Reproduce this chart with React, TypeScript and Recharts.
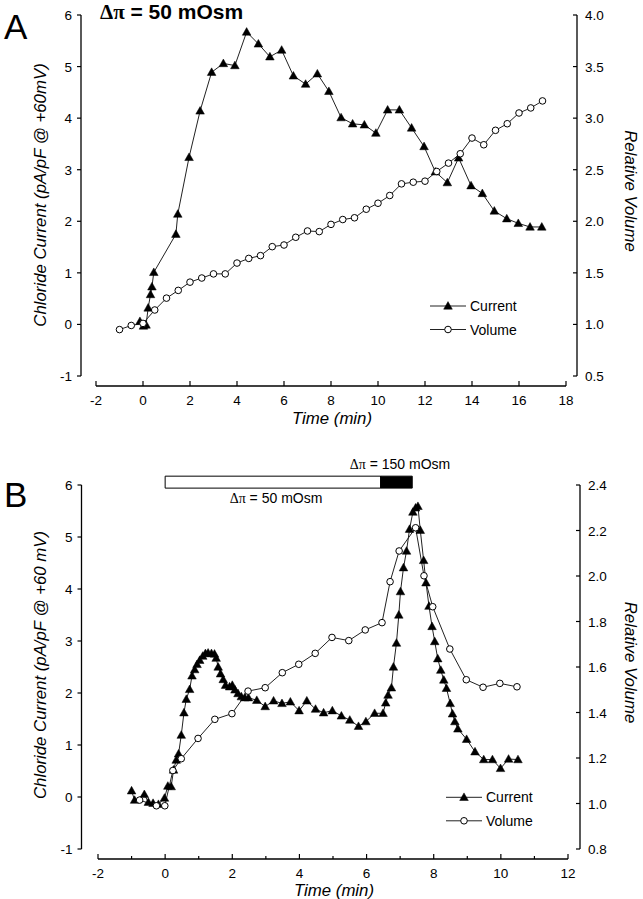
import React from 'react';
import { LineChart, Line, XAxis, YAxis, ReferenceLine, ReferenceArea } from 'recharts';

const SANS = '"Liberation Sans", Arial, Helvetica, sans-serif';
const SERIF = '"Liberation Serif", "Times New Roman", serif';

// ---------------- Panel A data ----------------
const xTicksA = [-2, 0, 2, 4, 6, 8, 10, 12, 14, 16, 18];
const yTicksA = [-1, 0, 1, 2, 3, 4, 5, 6];
const vTicksA = [0.5, 1.0, 1.5, 2.0, 2.5, 3.0, 3.5, 4.0];

const timeCurrentA = [
  -0.13, 0.02, 0.13, 0.22, 0.32, 0.38, 0.46, 1.4, 1.48, 1.96,
  2.43, 2.92, 3.42, 3.91, 4.41, 4.91, 5.4, 5.9, 6.4, 6.92,
  7.42, 7.91, 8.43, 8.92, 9.42, 9.91, 10.41, 10.91, 11.43, 11.96,
  12.44, 12.95, 13.43, 13.96, 14.44, 14.95, 15.48, 15.97, 16.47, 16.97,
];
const currentA = [
  0.06, -0.03, -0.01, 0.32, 0.58, 0.73, 1.01, 1.75, 2.14, 3.24,
  4.14, 4.89, 5.06, 5.02, 5.67, 5.44, 5.19, 5.32, 4.82, 4.66,
  4.86, 4.52, 4.01, 3.89, 3.87, 3.71, 4.16, 4.16, 3.81, 3.45,
  2.96, 2.75, 3.23, 2.69, 2.54, 2.2, 2.05, 1.96, 1.89, 1.89,
];
const timeVolumeA = [
  -1, -0.5, 0, 0.5, 1, 1.5, 2, 2.5, 3, 3.5, 4, 4.5, 5, 5.5, 6, 6.5, 7, 7.5, 8,
  8.5, 9, 9.5, 10, 10.5, 11, 11.5, 12, 12.5, 13, 13.5, 14, 14.5, 15, 15.5, 16, 16.5, 17,
];
const volumeA = [
  0.95, 0.99, 1.01, 1.14, 1.255, 1.33, 1.41, 1.45, 1.49, 1.49, 1.595, 1.64, 1.667,
  1.754, 1.77, 1.845, 1.906, 1.9, 1.97, 2.017, 2.034, 2.117, 2.175, 2.25, 2.363,
  2.379, 2.389, 2.483, 2.564, 2.655, 2.807, 2.742, 2.882, 2.946, 3.05, 3.099, 3.167,
];

// ---------------- Panel B data ----------------
const xTicksB = [-2, -1, 0, 1, 2, 3, 4, 5, 6, 7, 8, 9, 10, 11, 12];
const yTicksB = [-1, 0, 1, 2, 3, 4, 5, 6];
const vTicksB = [0.8, 1.0, 1.2, 1.4, 1.6, 1.8, 2.0, 2.2, 2.4];

const timeCurrentB = [
  -1.0, -0.91, -0.62, -0.5, -0.36, -0.2, -0.02, 0.08, 0.18, 0.25,
  0.33, 0.4, 0.48, 0.56, 0.63, 0.73, 0.8, 0.88, 0.95, 1.03,
  1.12, 1.2, 1.28, 1.38, 1.47, 1.52, 1.58, 1.65, 1.73, 1.8,
  1.92, 2.0, 2.08, 2.17, 2.27, 2.37, 2.48, 2.73, 2.98, 3.23,
  3.48, 3.73, 3.99, 4.22, 4.48, 4.72, 4.98, 5.25, 5.5, 5.76,
  5.98, 6.24, 6.49, 6.57, 6.64, 6.74, 6.8, 6.89, 6.96, 7.01,
  7.1, 7.19, 7.28, 7.38, 7.46, 7.53, 7.6, 7.7, 7.77, 7.86,
  7.95, 8.03, 8.12, 8.21, 8.3, 8.38, 8.49, 8.56, 8.63, 8.72,
  8.98, 9.23, 9.49, 9.75, 9.99, 10.23, 10.51,
];
const currentB = [
  0.12, -0.06, 0.05, -0.1, -0.12, -0.14, -0.02, 0.21, 0.2, 0.52,
  0.71, 0.83, 1.19, 1.62, 1.88, 2.07, 2.33, 2.45, 2.55, 2.63,
  2.71, 2.76, 2.77, 2.76, 2.75, 2.67, 2.5, 2.37, 2.26, 2.15,
  2.12, 2.15, 2.06, 1.99, 1.93, 1.91, 1.91, 1.86, 1.74, 1.85,
  1.8, 1.83, 1.66, 1.85, 1.69, 1.62, 1.66, 1.56, 1.48, 1.36,
  1.45, 1.61, 1.61, 1.81, 1.96, 2.1, 2.5, 2.96, 3.5, 3.95,
  4.41, 4.73, 5.15, 5.48, 5.56, 5.59, 5.13, 4.55, 4.12, 3.67,
  3.28, 2.99, 2.66, 2.44, 2.25, 2.09, 1.8, 1.6, 1.45, 1.31,
  1.11, 0.87, 0.72, 0.72, 0.55, 0.73, 0.72,
];
const timeVolumeB = [
  -0.76, -0.26, -0.01, 0.23, 0.48, 0.98, 1.48, 1.99, 2.47, 2.98, 3.49, 3.98, 4.47,
  4.97, 5.47, 5.96, 6.46, 6.7, 6.97, 7.46, 7.71, 7.97, 8.48, 8.97, 9.47, 9.97, 10.48,
];
const volumeB = [
  1.015, 0.99, 0.99, 1.145, 1.197, 1.286, 1.37, 1.395, 1.494, 1.509, 1.575, 1.612, 1.66,
  1.73, 1.716, 1.763, 1.795, 1.975, 2.11, 2.212, 2.001, 1.865, 1.679, 1.544, 1.511, 1.528, 1.513,
];

// stimulus bar (treatment periods, min)
const barStart = [0, 6.42];
const barEnd = [6.42, 7.36];
const barFill = ['#ffffff', '#000000'];

const seriesNames = ['Current', 'Volume'];

const toPoints = (ts: number[], vs: number[]) => ts.map((t, i) => ({ t, y: vs[i] }));

// ---------------- markers ----------------
const TriangleDot = (p: any) => {
  const { cx, cy } = p;
  if (cx == null || cy == null) return <g key={p.index} />;
  return (
    <path
      key={p.index}
      d={`M${cx},${cy - 4.4}L${cx + 4.3},${cy + 3.2}L${cx - 4.3},${cy + 3.2}Z`}
      fill="#000"
      stroke="#000"
      strokeWidth={0.5}
    />
  );
};
const CircleDot = (p: any) => {
  const { cx, cy } = p;
  if (cx == null || cy == null) return <g key={p.index} />;
  return <circle key={p.index} cx={cx} cy={cy} r={3.3} fill="#fff" stroke="#000" strokeWidth={1} />;
};

// ---------------- axis helpers ----------------
const offsetLine = (dx: number, dy: number) => (p: any) => (
  <line x1={p.x1 + dx} y1={p.y1 + dy} x2={p.x2 + dx} y2={p.y2 + dy} stroke="#000" strokeWidth={1.3} />
);

const makeLeftTick = (gap: number) => (p: any) => {
  const { x, y, payload } = p;
  const ax = x - gap;
  return (
    <g>
      <line x1={ax} y1={y} x2={ax - 4} y2={y} stroke="#000" strokeWidth={1.2} />
      <text x={ax - 9} y={y} dy={5} textAnchor="end" fontSize={13.5} fontFamily={SANS} fill="#000">
        {payload.value}
      </text>
    </g>
  );
};
const makeRightTick = (gap: number) => (p: any) => {
  const { x, y, payload } = p;
  const ax = x + gap;
  return (
    <g>
      <line x1={ax} y1={y} x2={ax - 4} y2={y} stroke="#000" strokeWidth={1.2} />
      <text x={ax + 8} y={y} dy={5} textAnchor="start" fontSize={13.5} fontFamily={SANS} fill="#000">
        {Number(payload.value).toFixed(1)}
      </text>
    </g>
  );
};
const makeXTick = (gap: number) => (p: any) => {
  const { x, y, payload } = p;
  const ay = y + gap;
  const major = payload.value % 2 === 0;
  return (
    <g>
      <line x1={x} y1={ay} x2={x} y2={ay - (major ? 5 : 3)} stroke="#000" strokeWidth={1.2} />
      {major && (
        <text x={x} y={ay + 18.5} textAnchor="middle" fontSize={13.5} fontFamily={SANS} fill="#000">
          {payload.value}
        </text>
      )}
    </g>
  );
};

const LegendBlock = ({ x, y }: { x: number; y: number }) => (
  <g>
    {seriesNames.map((name, i) => {
      const yy = y + i * 23.5;
      const mx = x + 18;
      return (
        <g key={name}>
          <line x1={x} y1={yy} x2={x + 36} y2={yy} stroke="#222" strokeWidth={1} />
          {i === 0 ? <TriangleDot cx={mx} cy={yy} index={0} /> : <CircleDot cx={mx} cy={yy} index={0} />}
          <text x={x + 40} y={yy + 5} fontSize={14} fontFamily={SANS} fill="#000">
            {name}
          </text>
        </g>
      );
    })}
  </g>
);

type PanelProps = {
  height: number;
  margin: { top: number; right: number; bottom: number; left: number };
  xDomain: [number, number];
  xTicks: number[];
  yDomain: [number, number];
  yTicks: number[];
  vDomain: [number, number];
  vTicks: number[];
  gapL: number;
  gapR: number;
  gapB: number;
  current: { t: number; y: number }[];
  volume: { t: number; y: number }[];
  children?: React.ReactNode;
  before?: React.ReactNode;
};

const Panel = (pp: PanelProps) => {
  const [x0, x1] = pp.xDomain;
  const [y0, y1] = pp.yDomain;
  return (
    <LineChart width={643} height={pp.height} margin={pp.margin}>
      <XAxis
        xAxisId="x"
        type="number"
        dataKey="t"
        domain={pp.xDomain}
        ticks={pp.xTicks}
        interval={0}
        allowDataOverflow
        height={40}
        axisLine={false}
        tickLine={false}
        tickSize={0}
        tickMargin={0}
        tick={makeXTick(pp.gapB)}
      />
      <YAxis
        yAxisId="c"
        orientation="left"
        type="number"
        domain={pp.yDomain}
        ticks={pp.yTicks}
        interval={0}
        allowDataOverflow
        width={50}
        axisLine={false}
        tickLine={false}
        tickSize={0}
        tickMargin={0}
        tick={makeLeftTick(pp.gapL)}
      />
      <YAxis
        yAxisId="v"
        orientation="right"
        type="number"
        domain={pp.vDomain}
        ticks={pp.vTicks}
        interval={0}
        allowDataOverflow
        width={50}
        axisLine={false}
        tickLine={false}
        tickSize={0}
        tickMargin={0}
        tick={makeRightTick(pp.gapR)}
      />
      <ReferenceLine
        xAxisId="x"
        yAxisId="c"
        segment={[{ x: x0, y: y0 }, { x: x0, y: y1 }]}
        ifOverflow="visible"
        shape={offsetLine(-pp.gapL, 0)}
      />
      <ReferenceLine
        xAxisId="x"
        yAxisId="c"
        segment={[{ x: x1, y: y0 }, { x: x1, y: y1 }]}
        ifOverflow="visible"
        shape={offsetLine(pp.gapR, 0)}
      />
      <ReferenceLine
        xAxisId="x"
        yAxisId="c"
        segment={[{ x: x0, y: y0 }, { x: x1, y: y0 }]}
        ifOverflow="visible"
        shape={offsetLine(0, pp.gapB)}
      />
      {pp.before}
      <Line
        xAxisId="x"
        yAxisId="c"
        data={pp.current}
        dataKey="y"
        name="Current"
        type="linear"
        stroke="#222"
        strokeWidth={1}
        dot={TriangleDot}
        activeDot={false}
        isAnimationActive={false}
      />
      <Line
        xAxisId="x"
        yAxisId="v"
        data={pp.volume}
        dataKey="y"
        name="Volume"
        type="linear"
        stroke="#222"
        strokeWidth={1}
        dot={CircleDot}
        activeDot={false}
        isAnimationActive={false}
      />
      {pp.children}
    </LineChart>
  );
};

const titleStyle = { fontSize: 16.8, fontFamily: SANS, fontStyle: 'italic' as const, fill: '#000' };

export default function App() {
  return (
    <div style={{ position: 'absolute', left: 0, top: 0, width: 643, height: 899, background: '#fff' }}>
      <div style={{ position: 'absolute', left: 0, top: 0 }}>
        <Panel
          height={440}
          margin={{ top: 15, right: 27, bottom: 24, left: 46 }}
          xDomain={[-2, 18]}
          xTicks={xTicksA}
          yDomain={[-1, 6]}
          yTicks={yTicksA}
          vDomain={[0.5, 4]}
          vTicks={vTicksA}
          gapL={15}
          gapR={11}
          gapB={10}
          current={toPoints(timeCurrentA, currentA)}
          volume={toPoints(timeVolumeA, volumeA)}
        >
          <text x={4} y={38.5} fontSize={35} fontFamily={SANS} fill="#000">A</text>
          <text x={100} y={18.5} fontSize={21} fontWeight="bold" fontFamily={SANS} fill="#000">
            <tspan fontFamily={SERIF}>Δπ</tspan> = 50 mOsm
          </text>
          <text x={46} y={195} textAnchor="middle" transform="rotate(-90 46 195)" {...titleStyle}>
            Chloride Current (pA/pF @ +60mV)
          </text>
          <text x={625} y={191} textAnchor="middle" transform="rotate(90 625 191)" {...titleStyle}>
            Relative Volume
          </text>
          <text x={332} y={424} textAnchor="middle" {...titleStyle}>Time (min)</text>
          <LegendBlock x={430} y={306} />
        </Panel>
      </div>
      <div style={{ position: 'absolute', left: 0, top: 440 }}>
        <Panel
          height={459}
          margin={{ top: 45, right: 25, bottom: 10, left: 48 }}
          xDomain={[-2, 12]}
          xTicks={xTicksB}
          yDomain={[-1, 6]}
          yTicks={yTicksB}
          vDomain={[0.8, 2.4]}
          vTicks={vTicksB}
          gapL={16.5}
          gapR={12}
          gapB={10}
          current={toPoints(timeCurrentB, currentB)}
          volume={toPoints(timeVolumeB, volumeB)}
          before={barStart.map((s, i) => (
            <ReferenceArea
              key={'bar' + i}
              xAxisId="x"
              yAxisId="c"
              x1={s}
              x2={barEnd[i]}
              y1={5.94}
              y2={6.17}
              ifOverflow="visible"
              fill={barFill[i]}
              fillOpacity={1}
              stroke="#000"
              strokeWidth={1}
            />
          ))}
        >
          <text x={4} y={66.5} fontSize={35} fontFamily={SANS} fill="#000">B</text>
          <text x={400} y={29} textAnchor="middle" fontSize={14} fontFamily={SANS} fill="#000">
            <tspan fontFamily={SERIF}>Δπ</tspan> = 150 mOsm
          </text>
          <text x={276} y={63} textAnchor="middle" fontSize={14} fontFamily={SANS} fill="#000">
            <tspan fontFamily={SERIF}>Δπ</tspan> = 50 mOsm
          </text>
          <text x={46} y={225} textAnchor="middle" transform="rotate(-90 46 225)" {...titleStyle}>
            Chloride Current (pA/pF @ +60 mV)
          </text>
          <text x={625} y={222.5} textAnchor="middle" transform="rotate(90 625 222.5)" {...titleStyle}>
            Relative Volume
          </text>
          <text x={334} y={456} textAnchor="middle" {...titleStyle}>Time (min)</text>
          <LegendBlock x={446} y={357.3} />
        </Panel>
      </div>
    </div>
  );
}
